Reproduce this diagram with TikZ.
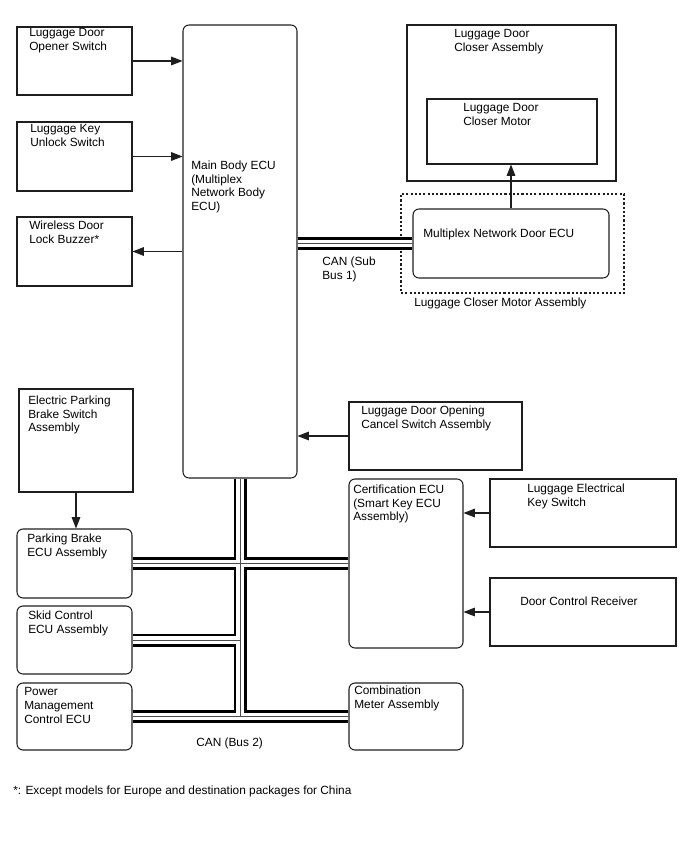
\documentclass[tikz,border=0pt]{standalone}
\usepackage{fontspec}
\setmainfont{Liberation Sans}
\usetikzlibrary{arrows.meta, fit}
\definecolor{boxline}{RGB}{30, 30, 30}
\definecolor{busline}{RGB}{0, 0, 0}

\begin{document}
\begin{tikzpicture}[x=0.75pt, y=-0.75pt,
    font=\fontsize{8.9}{10.3}\selectfont,
    sqbox/.style={draw=boxline, line width=0.8pt, inner sep=0pt},
    rbox/.style={sqbox, rounded corners=4.5pt},
    txt/.style={anchor=north west, inner sep=0pt, align=left},
    arr/.style={draw=boxline, line width=0.8pt, -{Triangle[length=8.5pt, width=6.5pt]}}]
  \useasboundingbox (0,0) rectangle (688,852);
  % left switches
  \node[sqbox, fit={(17,27) (132,95)}] (opener) {};
  \node[sqbox, fit={(17,122) (132,191)}] (keyunlock) {};
  \node[sqbox, fit={(17,217) (132,286)}] (buzzer) {};
  \node[txt] (t-opener) at (29,28.5) {Luggage Door\\Opener Switch};
  \node[txt] (t-keyunlock) at (30,124.5) {Luggage Key\\Unlock Switch};
  \node[txt] (t-buzzer) at (29,220.5) {Wireless Door\\Lock Buzzer*};
  % main body ecu
  \node[rbox, fit={(183,25) (297,478)}] (mainecu) {};
  \node[txt] (t-mainecu) at (191,160.5) {Main Body ECU\\(Multiplex\\Network Body\\ECU)};
  % closer side
  \node[sqbox, fit={(407,25) (616,181)}] (closerassy) {};
  \node[sqbox, fit={(427,99) (597,164)}] (closermotor) {};
  \node[sqbox, dash pattern=on 1.6pt off 1.6pt, line width=0.9pt, fit={(401,194) (624,293)}] (motorassy) {};
  \node[rbox, fit={(413,209) (609,278)}] (doorecu) {};
  \node[txt] (t-closerassy) at (454,29.5) {Luggage Door\\Closer Assembly};
  \node[txt] (t-closermotor) at (463,103.5) {Luggage Door\\Closer Motor};
  \node[txt] (t-doorecu) at (423,228.5) {Multiplex Network Door ECU};
  \node[txt] (t-motorassy) at (414,297.5) {Luggage Closer Motor Assembly};
  \node[txt] (t-subbus) at (322,256.5) {CAN (Sub\\Bus 1)};
  % parking brake side
  \node[sqbox, fit={(19,389) (133,492)}] (epbswitch) {};
  \node[rbox, fit={(17,529) (132,598)}] (pbecu) {};
  \node[rbox, fit={(17,606) (132,674)}] (skidecu) {};
  \node[rbox, fit={(17,683) (132,750)}] (pwrecu) {};
  \node[txt] (t-epbswitch) at (28,395.5) {Electric Parking\\Brake Switch\\Assembly};
  \node[txt] (t-pbecu) at (27,533.5) {Parking Brake\\ECU Assembly};
  \node[txt] (t-skidecu) at (28,610.5) {Skid Control\\ECU Assembly};
  \node[txt] (t-pwrecu) at (24,687.5) {Power\\Management\\Control ECU};
  % certification side
  \node[sqbox, fit={(349,402) (522,470)}] (cancelsw) {};
  \node[rbox, fit={(349,479) (463,648)}] (certecu) {};
  \node[sqbox, fit={(490,479) (676,547)}] (lekswitch) {};
  \node[sqbox, fit={(490,578) (676,646)}] (receiver) {};
  \node[rbox, fit={(349,683) (463,750)}] (meter) {};
  \node[txt] (t-cancelsw) at (361,405.5) {Luggage Door Opening\\Cancel Switch Assembly};
  \node[txt] (t-certecu) at (353,484.5) {Certification ECU\\(Smart Key ECU\\Assembly)};
  \node[txt] (t-lekswitch) at (527,483.5) {Luggage Electrical\\Key Switch};
  \node[txt] (t-receiver) at (520,596.5) {Door Control Receiver};
  \node[txt] (t-meter) at (354,685.5) {Combination\\Meter Assembly};
  \node[txt] (t-bus2) at (196,737.5) {CAN (Bus 2)};
  % note
  \node[txt] (t-note) at (13,785.5) {*: Except models for Europe and destination packages for China};
  % signal lines
  \draw[arr] (opener.east) -- (opener -| mainecu.west);
  \draw[arr] (keyunlock.east) -- (keyunlock -| mainecu.west);
  \draw[arr] (buzzer -| mainecu.west) -- (buzzer.east);
  \draw[arr] (cancelsw.west) -- (cancelsw -| mainecu.east);
  \draw[arr] (lekswitch.west) -- (lekswitch -| certecu.east);
  \draw[arr] (receiver.west) -- (receiver -| certecu.east);
  \draw[arr] (epbswitch.south) -- (epbswitch.south |- pbecu.north);
  \draw[arr] (doorecu.north) -- (doorecu.north |- closermotor.south);
  % can buses: outer, gap, centre
  \foreach \bw/\bc in {9.75pt/busline, 5.6pt/white, 0.7pt/busline!70} {
    \draw[line width=\bw, color=\bc] (mainecu.east |- doorecu) -- (doorecu.west);
    \draw[line width=\bw, color=\bc] (mainecu.south) -- (mainecu.south |- pwrecu);
    \draw[line width=\bw, color=\bc] (pbecu.east) -- (certecu.west);
    \draw[line width=\bw, color=\bc] (skidecu.east) -- (skidecu -| mainecu.south);
    \draw[line width=\bw, color=\bc] (pwrecu.east) -- (meter.west);
  }
\end{tikzpicture}
\end{document}
